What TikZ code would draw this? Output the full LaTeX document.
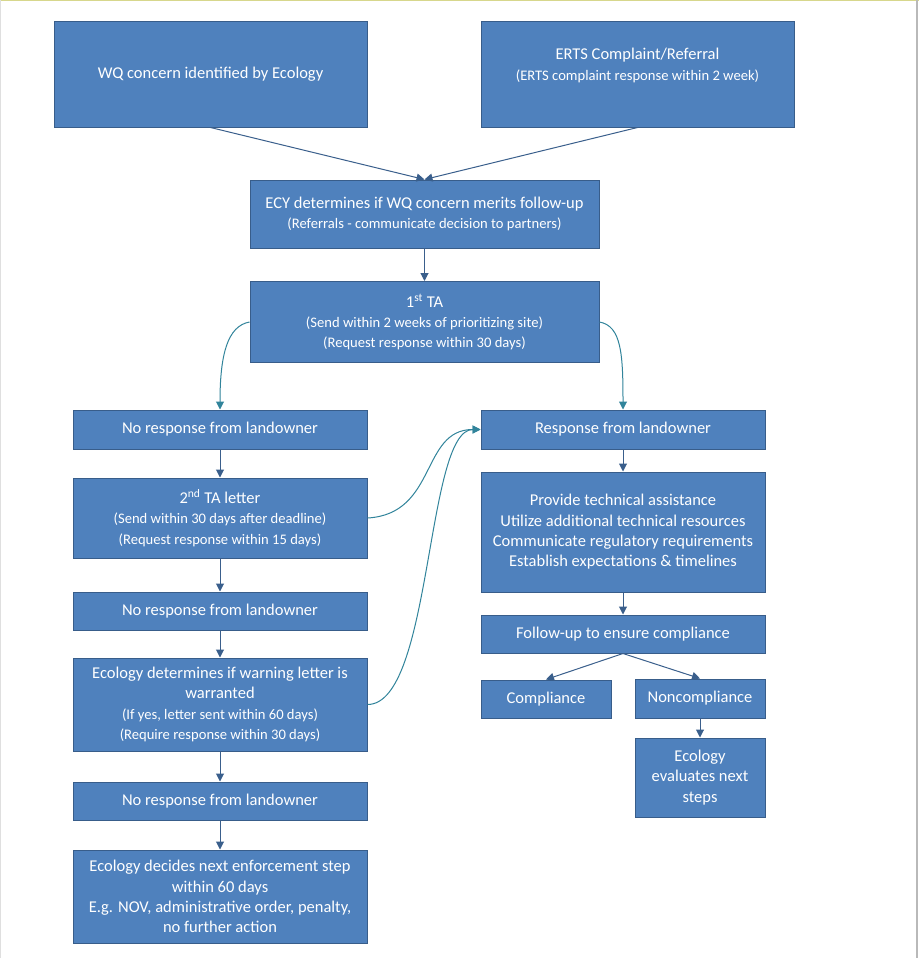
\documentclass[tikz,border=0pt]{standalone}
\usepackage{fontspec}
\setmainfont{Carlito}
\usetikzlibrary{arrows.meta}
\definecolor{boxfill}{RGB}{79,129,189}
\definecolor{boxline}{RGB}{56,93,138}
\definecolor{arrblue}{RGB}{58,95,140}
\definecolor{arrteal}{RGB}{49,132,155}
\definecolor{frameyel}{RGB}{215,215,140}
\newcommand\smtxt{\fontsize{14.6}{17.5}\selectfont}
\newcommand\bigtxt{\fontsize{16.5}{20.3}\selectfont}
\begin{document}
\begin{tikzpicture}[x=1pt,y=-1pt,
  flowbox/.style={draw=boxline,fill=boxfill,line width=1pt,text=white,align=center,
    inner sep=0pt,font=\bigtxt},
  arr/.style={draw=arrblue,line width=1pt,-{Triangle[length=8pt,width=8pt]}},
  carr/.style={draw=arrteal,line width=1pt,-{Triangle[length=8pt,width=8pt]}}]
\useasboundingbox (0,0) rectangle (919,958);
\fill[white] (0,0) rectangle (919,958);
\draw[frameyel,line width=1.5pt] (0,0.75) -- (919,0.75);
\draw[gray!25,line width=1pt] (0.5,0) -- (0.5,958);
\draw[gray!55,line width=1.5pt] (917,0) -- (917,958);

\node[flowbox,minimum width=313pt,minimum height=105pt] (wq) at (210.5,74.5) {WQ concern identified by Ecology};
\node[flowbox,minimum width=313pt,minimum height=105pt] (erts) at (637.5,74.5) {ERTS Complaint/Referral\\\smtxt (ERTS complaint response within 2 week)\\\mbox{}};
\node[flowbox,minimum width=349pt,minimum height=68pt] (ecy) at (424.5,214) {ECY determines if WQ concern merits follow-up\\\smtxt (Referrals - communicate decision to partners)};
\node[flowbox,minimum width=349pt,minimum height=81pt] (ta) at (424.5,322) {1\textsuperscript{st} TA\\\smtxt (Send within 2 weeks of prioritizing site)\\\smtxt (Request response within 30 days)};
\node[flowbox,minimum width=294pt,minimum height=39pt] (nr1) at (220,429.5) {No response from landowner};
\node[flowbox,minimum width=284pt,minimum height=39pt] (resp) at (623,429.5) {Response from landowner};
\node[flowbox,minimum width=294pt,minimum height=80pt] (ta2) at (220,518) {2\textsuperscript{nd} TA letter\\\smtxt (Send within 30 days after deadline)\\\smtxt (Request response within 15 days)};
\node[flowbox,minimum width=284pt,minimum height=120pt] (prov) at (623,532) {Provide technical assistance\\Utilize additional technical resources\\Communicate regulatory requirements\\Establish expectations \& timelines};
\node[flowbox,minimum width=294pt,minimum height=38pt] (nr2) at (220,611) {No response from landowner};
\node[flowbox,minimum width=284pt,minimum height=38pt] (fu) at (623,634) {Follow-up to ensure compliance};
\node[flowbox,minimum width=294pt,minimum height=93pt] (warn) at (220,704.5) {Ecology determines if warning letter is\\warranted\\\smtxt (If yes, letter sent within 60 days)\\\smtxt (Require response within 30 days)};
\node[flowbox,minimum width=130pt,minimum height=38pt] (comp) at (546,699) {Compliance};
\node[flowbox,minimum width=130pt,minimum height=39pt] (nonc) at (700,698.5) {Noncompliance};
\node[flowbox,minimum width=130pt,minimum height=79pt] (eval) at (700,777.5) {Ecology\\evaluates next\\steps};
\node[flowbox,minimum width=294pt,minimum height=38pt] (nr3) at (220,801) {No response from landowner};
\node[flowbox,minimum width=294pt,minimum height=93pt] (dec) at (220,896.5) {Ecology decides next enforcement step\\within 60 days\\E.g. NOV, administrative order, penalty,\\no further action};

\draw[arr] (wq.south) -- (ecy.north);
\draw[arr] (erts.south) -- (ecy.north);
\draw[arr] (ecy) -- (ta);
\draw[carr] (ta.west) .. controls +(-22,4) and +(0,-55) .. (nr1.north);
\draw[carr] (ta.east) .. controls +(22,4) and +(0,-55) .. (resp.north);
\draw[arr] (nr1) -- (ta2);
\draw[arr] (ta2) -- (nr2);
\draw[arr] (nr2) -- (warn);
\draw[arr] (warn) -- (nr3);
\draw[arr] (nr3) -- (dec);
\draw[carr] (ta2.east) .. controls +(70,-4) and +(-60,0) .. (resp.west);
\draw[carr] (warn.east) .. controls +(65,0) and +(-55,0) .. (resp.west);
\draw[arr] (resp) -- (prov);
\draw[arr] (prov) -- (fu);
\draw[arr] (fu.south) -- (comp.north);
\draw[arr] (fu.south) -- (nonc.north);
\draw[arr] (nonc) -- (eval);
\end{tikzpicture}
\end{document}
